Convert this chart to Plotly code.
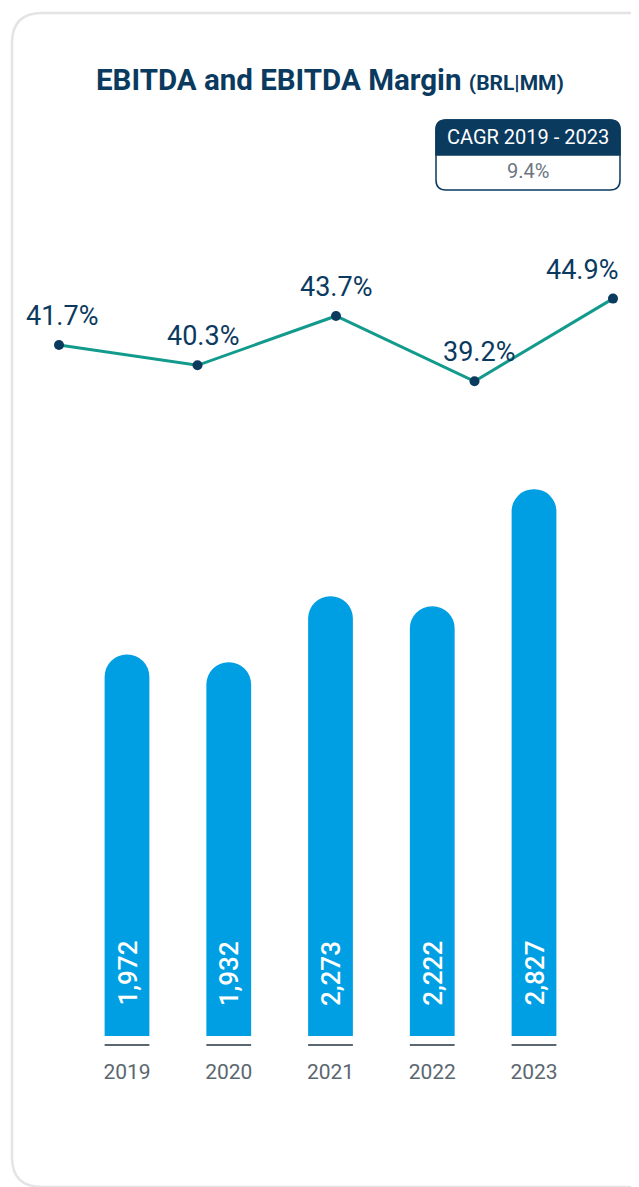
import plotly.graph_objects as go

years = ["2019", "2020", "2021", "2022", "2023"]
ebitda = [1972, 1932, 2273, 2222, 2827]
ebitda_labels = ["1,972", "1,932", "2,273", "2,222", "2,827"]
margin = [41.7, 40.3, 43.7, 39.2, 44.9]
margin_labels = ["41.7%", "40.3%", "43.7%", "39.2%", "44.9%"]
cagr_title = "CAGR 2019 - 2023"
cagr_value = "9.4%"

W, H = 639, 1187
OFF = 8  # page body margin
NAVY = "#0b3a5f"
BLUE = "#009fe3"
TEAL = "#129a8d"
GRAY = "#5b6770"


def py(pixel):
    return 1 - (pixel - OFF) / H


def px(pixel):
    return (pixel - OFF) / W


fig = go.Figure()

fig.add_trace(go.Bar(
    x=years, y=ebitda, marker=dict(color=BLUE, cornerradius=22, line=dict(width=0)),
    width=0.44, xaxis="x", yaxis="y", hoverinfo="skip", showlegend=False,
))

fig.add_trace(go.Scatter(
    x=years, y=margin, mode="lines+markers",
    line=dict(color=TEAL, width=3), marker=dict(color=NAVY, size=10),
    xaxis="x2", yaxis="y2", hoverinfo="skip", showlegend=False, cliponaxis=False,
))

annotations = []
for i, lab in enumerate(ebitda_labels):
    annotations.append(dict(
        x=i, y=0, xref="x", yref="y", text=lab, showarrow=False, textangle=-90,
        xanchor="center", yanchor="bottom", yshift=28,
        font=dict(family="Roboto", size=26, color="white", weight=500),
    ))

label_xshift = [3, 5, 0, 4, -31]
for i, (v, lab, xs) in enumerate(zip(margin, margin_labels, label_xshift)):
    annotations.append(dict(
        x=i, y=v, xref="x2", yref="y2", text=lab, showarrow=False,
        xanchor="center", yanchor="middle", yshift=29, xshift=xs,
        font=dict(family="Roboto", size=27, color=NAVY),
    ))

annotations.append(dict(
    x=px(330), y=py(80), xref="paper", yref="paper", showarrow=False,
    text="<b>EBITDA and EBITDA Margin</b> <b><span style='font-size:21px'>(BRL|MM)</span></b>",
    font=dict(family="Roboto", size=29.5, color=NAVY),
    xanchor="center", yanchor="middle",
))
annotations.append(dict(
    x=px(528), y=py(137), xref="paper", yref="paper", showarrow=False, text=cagr_title,
    font=dict(family="Roboto", size=20, color="white"), xanchor="center", yanchor="middle",
))
annotations.append(dict(
    x=px(528), y=py(171), xref="paper", yref="paper", showarrow=False, text=cagr_value,
    font=dict(family="Roboto", size=20, color="#6b7580"), xanchor="center", yanchor="middle",
))


def rounded_path(x0, y0, x1, y1, r, corners=(True, True, True, True)):
    # pixel coords; corners: tl, tr, br, bl
    tl, tr, br, bl = corners

    def P(x, y):
        return f"{px(x):.5f},{py(y):.5f}"
    p = f"M {P(x0 + (r if tl else 0), y0)} "
    p += f"L {P(x1 - (r if tr else 0), y0)} "
    if tr:
        p += f"Q {P(x1, y0)} {P(x1, y0 + r)} "
    p += f"L {P(x1, y1 - (r if br else 0))} "
    if br:
        p += f"Q {P(x1, y1)} {P(x1 - r, y1)} "
    p += f"L {P(x0 + (r if bl else 0), y1)} "
    if bl:
        p += f"Q {P(x0, y1)} {P(x0, y1 - r)} "
    p += f"L {P(x0, y0 + (r if tl else 0))} "
    if tl:
        p += f"Q {P(x0, y0)} {P(x0 + r, y0)} "
    return p + "Z"


shapes = [
    dict(type="path", xref="paper", yref="paper", layer="below",
         path=rounded_path(12, 13, 690, 1187, 30), line=dict(color="#e2e4e6", width=2.5),
         fillcolor="white"),
    dict(type="path", xref="paper", yref="paper", layer="above",
         path=rounded_path(436, 120, 620, 190, 10), line=dict(color=NAVY, width=1.5),
         fillcolor="white"),
    dict(type="path", xref="paper", yref="paper", layer="above",
         path=rounded_path(436, 120, 620, 155, 10, (True, True, False, False)),
         line=dict(color=NAVY, width=1.5), fillcolor=NAVY),
]
for i, yr in enumerate(years):
    shapes.append(dict(type="line", xref="x", yref="paper", x0=i - 0.22, x1=i + 0.22,
                       y0=py(1045), y1=py(1045), line=dict(color=GRAY, width=2)))

# bar axis: centers at 127 .. 534 px (reference pixels)
step = (534 - 127) / 4
bx0 = -(127 - OFF) / step
bx1 = 4 + (W + OFF - 534) / step
# line axis: points at 59 .. 613 px
lstep = (613 - 59) / 4
lx0 = -(59 - OFF) / lstep
lx1 = 4 + (W + OFF - 613) / lstep

units_per_px = 5.17
fig.update_layout(
    width=W, height=H, margin=dict(l=0, r=0, t=0, b=0),
    paper_bgcolor="white", plot_bgcolor="rgba(0,0,0,0)",
    xaxis=dict(domain=[0, 1], range=[bx0, bx1], type="category", showgrid=False,
               zeroline=False, showline=False, ticks="", ticklabelstandoff=11,
               tickfont=dict(family="Roboto", size=21, color=GRAY), anchor="y"),
    yaxis=dict(domain=[py(1046), py(480)], range=[-10 * units_per_px, (1036 - 480) * units_per_px],
               visible=False, showgrid=False, zeroline=False),
    xaxis2=dict(domain=[0, 1], range=[lx0, lx1], type="category", visible=False,
                anchor="y2", showgrid=False),
    yaxis2=dict(domain=[py(420), py(260)], range=[36.53, 47.56], visible=False,
                showgrid=False, zeroline=False),
    annotations=annotations, shapes=shapes,
)

fig.write_html("out.html")
